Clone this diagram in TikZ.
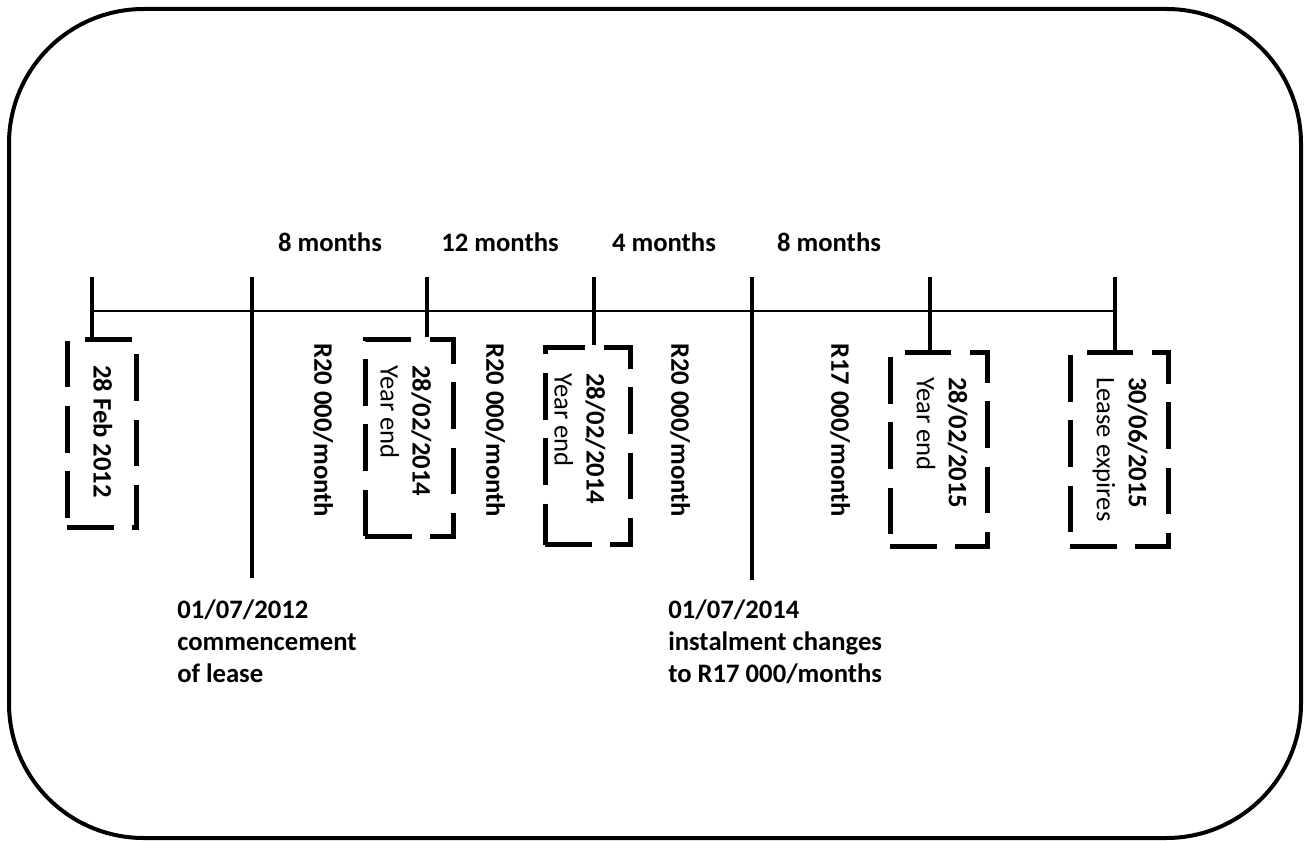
\documentclass[tikz,border=0pt]{standalone}
\usepackage{fontspec}
\setmainfont{Carlito}
\begin{document}
\begin{tikzpicture}[x=0.75pt,y=-0.75pt,
  frame/.style={line width=3pt, rounded corners=101pt},
  axis/.style={line width=1.5pt},
  tick/.style={line width=3.4pt},
  box/.style={draw, line width=3.75pt, dash pattern=on 35pt off 14pt, inner sep=0pt},
  vlab/.style={rotate=-90, anchor=west, inner sep=0pt, font=\fontsize{20}{24}\selectfont\bfseries, align=left},
  hlab/.style={inner sep=0pt, font=\fontsize{20}{24}\selectfont\bfseries, align=left}]
\useasboundingbox (0,0) rectangle (1311,841);
\draw[frame] (9,9) rectangle (1301,838);

% timeline
\coordinate (tl) at (92,311);
\coordinate (tr) at (1115,311);
\draw[axis] (tl) -- (tr);

% boxes
\node[box, minimum width=51.75pt, minimum height=141pt] (b1) at (101.5,434) {};
\node[box, minimum width=66pt, minimum height=147.75pt] (b2) at (409,438.5) {};
\node[box, minimum width=63.75pt, minimum height=147.75pt] (b3) at (587.5,446.5) {};
\node[box, minimum width=72.75pt, minimum height=145.5pt] (b4) at (938.5,450) {};
\node[box, minimum width=73.5pt, minimum height=145.5pt] (b5) at (1119,450) {};

% ticks
\coordinate (t1) at (92,277);
\coordinate (t2) at (252,277);
\coordinate (e2) at (252,578);
\coordinate (t3) at (427,277);
\coordinate (t4) at (594,277);
\coordinate (t5) at (752,277);
\coordinate (e5) at (752,580);
\coordinate (t6) at (930,277);
\coordinate (t7) at (1115,277);
\draw[tick] (t1) -- (t1 |- b1.north);
\draw[tick] (t2) -- (e2);
\draw[tick] (t3) -- (t3 |- b2.north);
\draw[tick] (t4) -- (t4 |- b3.north);
\draw[tick] (t5) -- (e5);
\draw[tick] (t6) -- (t6 |- b4.north);
\draw[tick] (t7) -- (t7 |- b5.north);

% box texts
\node[vlab] (x1) at (103,365) {28 Feb 2012};
\node[vlab] (x2) at (406,365) {28/02/2014\\{\mdseries Year end}};
\node[vlab] (x3) at (580,373) {28/02/2014\\{\mdseries Year end}};
\node[vlab] (x4) at (942,377) {28/02/2015\\{\mdseries Year end}};
\node[vlab] (x5) at (1120,377) {30/06/2015\\{\mdseries Lease expires}};

% payments
\node[vlab] (p1) at (323,343) {R20 000/month};
\node[vlab] (p2) at (495,343) {R20 000/month};
\node[vlab] (p3) at (680,343) {R20 000/month};
\node[vlab] (p4) at (840,343) {R17 000/month};

% periods
\node[hlab] (m1) at (330,242) {8 months};
\node[hlab] (m2) at (500,242) {12 months};
\node[hlab] (m3) at (664,242) {4 months};
\node[hlab] (m4) at (829,242) {8 months};

% bottom labels
\node[hlab, anchor=north west] (c1) at (177,600) {01/07/2012\\commencement\\of lease};
\node[hlab, anchor=north west] (c2) at (668,600) {01/07/2014\\instalment changes\\to R17 000/months};
\end{tikzpicture}
\end{document}
